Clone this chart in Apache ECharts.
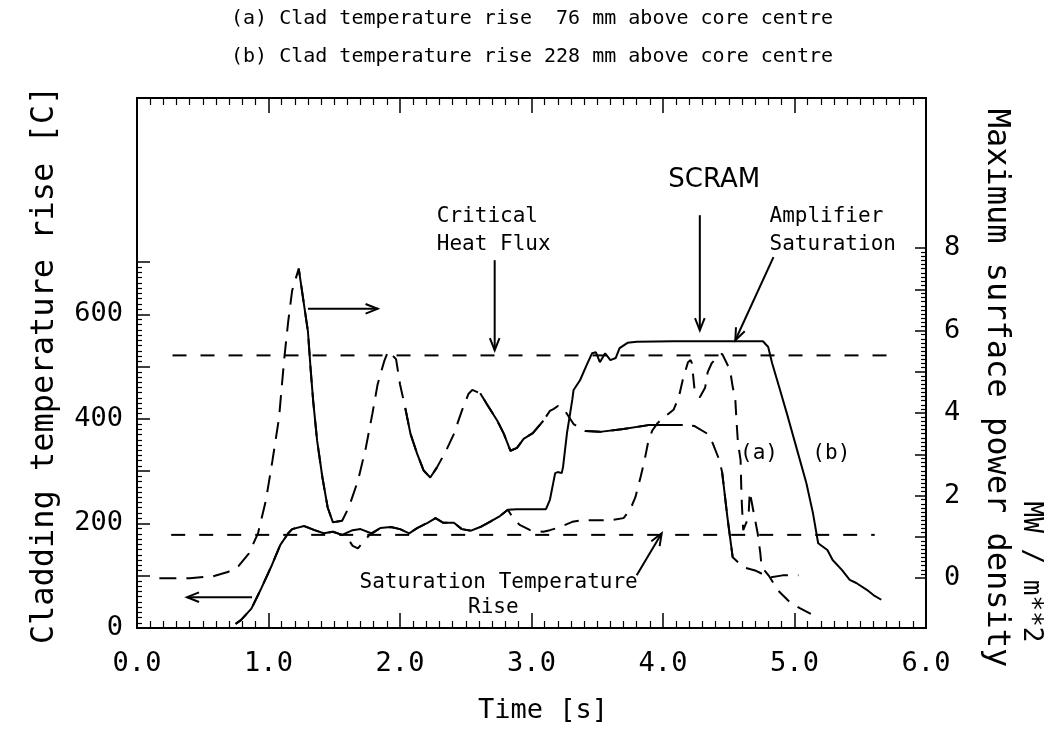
<!DOCTYPE html>
<html><head><meta charset="utf-8">
<script src="https://cdn.jsdelivr.net/npm/echarts@6/dist/echarts.min.js"></script>
<style>html,body{margin:0;padding:0;background:#fff}#c{width:1060px;height:730px}</style>
</head><body><div id="c"></div>
<script>
// ---- data (time [s], value) ----
const xTickValues = [0, 1, 2, 3, 4, 5, 6];
const tempTickLabels = [0, 200, 400, 600];
const powerTickLabels = [0, 2, 4, 6, 8];

// Maximum surface power density [MW/m**2] (right axis)
const powerDensity = [
  [0.17,0.0],[0.40,0.0],[0.58,0.05],[0.69,0.15],[0.77,0.29],[0.85,0.6],[0.92,1.09],[0.98,1.89],
  [1.03,2.86],[1.08,3.9],[1.12,5.35],[1.15,6.25],[1.18,7.0],[1.23,7.53],[1.30,6.0],[1.32,5.1],
  [1.34,4.3],[1.37,3.34],[1.41,2.45],[1.45,1.72],[1.49,1.36],[1.56,1.40],[1.61,1.72],[1.68,2.37],
  [1.74,3.17],[1.79,4.0],[1.83,4.72],[1.88,5.28],[1.91,5.52],[1.97,5.33],[2.00,4.72],[2.04,4.14],
  [2.08,3.51],[2.13,3.03],[2.18,2.62],[2.23,2.45],[2.28,2.69],[2.35,3.10],[2.41,3.51],[2.47,4.07],
  [2.52,4.48],[2.55,4.58],[2.61,4.5],[2.66,4.24],[2.74,3.83],[2.79,3.51],[2.84,3.10],[2.89,3.17],
  [2.94,3.39],[3.01,3.53],[3.09,3.83],[3.14,4.07],[3.17,4.12],[3.20,4.19],[3.24,4.14],[3.32,3.75],
  [3.41,3.58],[3.52,3.56],[3.70,3.63],[3.90,3.73],[4.15,3.73],[4.24,3.70],[4.34,3.51],[4.38,3.27],
  [4.43,2.86],[4.45,2.57],[4.49,1.48],[4.53,0.51],[4.61,0.27],[4.70,0.19],[4.81,0.02],[4.91,0.07],[5.03,0.07]
];
const powerSolidRanges = [[1.23,1.57],[2.04,2.30],[2.58,3.10],[3.40,4.16],[4.45,4.55]];

// (a) clad temperature rise 76 mm above core centre [C] (left axis)
const cladTempA = [
  [0.75,8],[0.79,15],[0.87,37],[0.94,73],[1.02,117],[1.09,159],[1.15,181],[1.18,189],[1.27,195],
  [1.35,187],[1.42,181],[1.49,184],[1.56,178],[1.60,172],[1.64,157],[1.68,152],[1.73,168],[1.77,178],
  [1.79,181],[1.85,191],[1.93,193],[2.00,189],[2.07,181],[2.13,191],[2.21,201],[2.27,210],[2.33,201],
  [2.41,201],[2.47,189],[2.54,186],[2.61,193],[2.69,204],[2.76,214],[2.82,226],[2.83,229],[2.86,210],
  [2.91,197],[2.99,187],[3.09,184],[3.14,187],[3.22,193],[3.31,203],[3.39,206],[3.49,206],[3.60,206],
  [3.70,210],[3.75,226],[3.79,250],[3.83,289],[3.86,321],[3.89,359],[3.92,378],[3.96,392],[4.02,405],
  [4.08,417],[4.12,441],[4.15,474],[4.19,508],[4.21,512],[4.22,506],[4.24,455],[4.26,445],[4.28,441],
  [4.32,459],[4.34,489],[4.37,506],[4.43,522],[4.45,524],[4.51,493],[4.53,461],[4.55,436],[4.56,392],
  [4.57,354],[4.59,321],[4.595,270],[4.60,235],[4.61,187],[4.65,212],[4.66,260],[4.69,220],[4.72,181],
  [4.74,143],[4.75,117],[4.81,98],[4.87,73],[4.97,48],[5.04,38],[5.14,25]
];

// (b) clad temperature rise 228 mm above core centre [C] (left axis)
const cladTempB = [
  [0.75,8],[0.79,15],[0.87,37],[0.94,73],[1.02,117],[1.09,159],[1.15,181],[1.18,189],[1.27,195],
  [1.35,187],[1.42,181],[1.49,184],[1.56,178],[1.64,187],[1.70,189],[1.78,181],[1.85,191],[1.93,193],
  [2.00,189],[2.07,181],[2.13,191],[2.21,201],[2.27,210],[2.33,201],[2.41,201],[2.47,189],[2.54,186],
  [2.61,193],[2.69,204],[2.76,214],[2.82,226],[2.89,227],[3.07,227],[3.11,227],[3.14,245],[3.18,296],
  [3.20,298],[3.23,296],[3.24,308],[3.27,373],[3.31,436],[3.32,455],[3.37,474],[3.42,503],[3.46,525],
  [3.49,527],[3.52,508],[3.56,525],[3.60,512],[3.64,516],[3.67,535],[3.73,545],[3.80,547],[4.08,548],
  [4.53,548],[4.76,548],[4.80,537],[4.83,506],[4.89,455],[4.95,403],[5.02,340],[5.09,277],[5.14,220],
  [5.18,162],[5.25,149],[5.29,130],[5.36,111],[5.42,92],[5.47,86],[5.55,73],[5.60,63],[5.66,54]
];

const chfLevel = 5.42;          // critical heat flux, MW/m**2
const chfSpan = [0.27, 5.70];
const satLevel = 178;           // saturation temperature rise, C
const satSpan = [0.26, 5.61];

const titles = ['(a) Clad temperature rise  76 mm above core centre',
                '(b) Clad temperature rise 228 mm above core centre'];

// annotations in (time, temperature) coordinates
const notes = [
  [2.28, 787, 'Critical', 'left', 21, 'mono'],
  [2.28, 732, 'Heat Flux', 'left', 21, 'mono'],
  [4.39, 856, 'SCRAM', 'center', 26, 'sans'],
  [4.81, 787, 'Amplifier', 'left', 21, 'mono'],
  [4.81, 732, 'Saturation', 'left', 21, 'mono'],
  [4.73, 334, '(a)', 'center', 21, 'mono'],
  [5.28, 334, '(b)', 'center', 21, 'mono'],
  [2.75, 86, 'Saturation Temperature', 'center', 21, 'mono'],
  [2.71, 40, 'Rise', 'center', 21, 'mono']
];
const arrows = [
  [2.72, 703, 2.72, 531],
  [4.28, 789, 4.28, 569],
  [4.84, 709, 4.55, 550],
  [3.80, 101, 3.99, 181],
  [1.30, 610, 1.83, 610],
  [0.875, 59, 0.38, 59]
];

// ---- chart ----
const MONO = '"DejaVu Sans Mono", "Liberation Mono", monospace';
const SANS = '"DejaVu Sans", "Liberation Sans", sans-serif';
const chart = echarts.init(document.getElementById('c'), null, {renderer: 'canvas'});

function inRanges(t) { return powerSolidRanges.some(r => t >= r[0] - 1e-9 && t <= r[1] + 1e-9); }
const powerSolid = powerDensity.map(p => inRanges(p[0]) ? p : [p[0], null]);

const G = {left: 137, right: 134, top: 98, bottom: 102};
const tickStyle = {color: '#000', width: 1.5};
const minorStyle = {color: '#000', width: 1.2};
const labelFont = {color: '#000', fontFamily: MONO, fontSize: 27};

const option = {
  animation: false,
  backgroundColor: '#fff',
  grid: [
    Object.assign({show: true, borderColor: '#000', borderWidth: 2, backgroundColor: 'transparent'}, G),
    {left: G.left, right: G.right, top: 262, bottom: G.bottom},
    {left: G.left, right: G.right, top: 248, bottom: 152}
  ],
  xAxis: [
    {gridIndex: 0, type: 'value', position: 'bottom', min: 0, max: 6, interval: 1,
     axisLine: {show: true, onZero: false, lineStyle: {color: '#000', width: 2}},
     axisTick: {show: true, inside: true, length: 15, lineStyle: tickStyle},
     minorTick: {show: true, splitNumber: 10, length: 7, lineStyle: minorStyle},
     splitLine: {show: false},
     axisLabel: Object.assign({margin: 22, formatter: v => xTickValues.includes(v) ? v.toFixed(1) : ''}, labelFont)},
    {gridIndex: 0, type: 'value', position: 'top', min: 0, max: 6, interval: 1,
     axisLine: {show: true, onZero: false, lineStyle: {color: '#000', width: 2}},
     axisTick: {show: true, inside: true, length: 15, lineStyle: tickStyle},
     minorTick: {show: true, splitNumber: 10, length: 7, lineStyle: minorStyle},
     splitLine: {show: false}, axisLabel: {show: false}},
    {gridIndex: 1, type: 'value', min: 0, max: 6, show: false, axisLine: {onZero: false}},
    {gridIndex: 2, type: 'value', min: 0, max: 6, show: false, axisLine: {onZero: false}}
  ],
  yAxis: [
    {gridIndex: 0, type: 'value', min: 0, max: 1013, show: false, axisLine: {onZero: false}},
    {gridIndex: 0, type: 'value', min: -1.21, max: 11.68, show: false, axisLine: {onZero: false}},
    {gridIndex: 1, type: 'value', position: 'left', min: 0, max: 700, interval: 100,
     axisLine: {show: false, onZero: false},
     axisTick: {show: true, inside: true, length: 13, lineStyle: tickStyle},
     minorTick: {show: true, splitNumber: 10, length: 5, lineStyle: minorStyle},
     splitLine: {show: false},
     axisLabel: Object.assign({margin: 14, formatter: v => tempTickLabels.includes(v) ? String(v) : ''}, labelFont)},
    {gridIndex: 2, type: 'value', position: 'right', min: 0, max: 8, interval: 1,
     axisLine: {show: false, onZero: false},
     axisTick: {show: true, inside: true, length: 11, lineStyle: tickStyle},
     minorTick: {show: true, splitNumber: 10, length: 5, lineStyle: minorStyle},
     splitLine: {show: false},
     axisLabel: Object.assign({margin: 18, formatter: v => powerTickLabels.includes(v) ? String(v) : ''}, labelFont)}
  ],
  series: [
    {name: 'Saturation temperature rise', type: 'line', xAxisIndex: 0, yAxisIndex: 0, symbol: 'none',
     data: [[satSpan[0], satLevel], [satSpan[1], satLevel]],
     lineStyle: {color: '#000', width: 2, type: [14, 14]}},
    {name: 'Critical heat flux', type: 'line', xAxisIndex: 0, yAxisIndex: 1, symbol: 'none',
     data: [[chfSpan[0], chfLevel], [chfSpan[1], chfLevel]],
     lineStyle: {color: '#000', width: 2, type: [14, 14]}},
    {name: 'Power density', type: 'line', xAxisIndex: 0, yAxisIndex: 1, symbol: 'none',
     data: powerDensity, lineStyle: {color: '#000', width: 2, type: [17, 10]}},
    {name: 'Power density (solid)', type: 'line', xAxisIndex: 0, yAxisIndex: 1, symbol: 'none',
     data: powerSolid, connectNulls: false, lineStyle: {color: '#000', width: 2}},
    {name: '(a)', type: 'line', xAxisIndex: 0, yAxisIndex: 0, symbol: 'none',
     data: cladTempA, lineStyle: {color: '#000', width: 2, type: [15, 10]}},
    {name: '(b)', type: 'line', xAxisIndex: 0, yAxisIndex: 0, symbol: 'none',
     data: cladTempB, lineStyle: {color: '#000', width: 2}},
    {name: 'arrows', type: 'custom', xAxisIndex: 0, yAxisIndex: 0, clip: false,
     data: arrows,
     renderItem: function (params, api) {
       const p1 = api.coord([api.value(0), api.value(1)]);
       const p2 = api.coord([api.value(2), api.value(3)]);
       const ang = Math.atan2(p2[1] - p1[1], p2[0] - p1[0]);
       const L = 13, a = 0.38;
       const h1 = [p2[0] - L * Math.cos(ang - a), p2[1] - L * Math.sin(ang - a)];
       const h2 = [p2[0] - L * Math.cos(ang + a), p2[1] - L * Math.sin(ang + a)];
       return {type: 'group', children: [
         {type: 'line', shape: {x1: p1[0], y1: p1[1], x2: p2[0], y2: p2[1]}, style: {stroke: '#000', lineWidth: 2}},
         {type: 'polyline', shape: {points: [h1, p2, h2]}, style: {stroke: '#000', lineWidth: 2, fill: null}}
       ]};
     }},
    {name: 'notes', type: 'custom', xAxisIndex: 0, yAxisIndex: 0, clip: false,
     data: notes.map(n => [n[0], n[1]]),
     renderItem: function (params, api) {
       const n = notes[params.dataIndex];
       const p = api.coord([api.value(0), api.value(1)]);
       return {type: 'text', x: p[0], y: p[1], style: {
         text: n[2], fill: '#000', textAlign: n[3], textVerticalAlign: 'middle',
         font: n[4] + 'px ' + (n[5] === 'sans' ? SANS : MONO)}};
     }}
  ],
  graphic: [
    {type: 'text', x: 532, y: 19, style: {text: titles[0], fill: '#000', font: '20px ' + MONO, textAlign: 'center', textVerticalAlign: 'middle'}},
    {type: 'text', x: 532, y: 57, style: {text: titles[1], fill: '#000', font: '20px ' + MONO, textAlign: 'center', textVerticalAlign: 'middle'}},
    {type: 'text', x: 543, y: 711, style: {text: 'Time [s]', fill: '#000', font: '27px ' + MONO, textAlign: 'center', textVerticalAlign: 'middle'}},
    {type: 'text', x: 45, y: 365, rotation: Math.PI / 2, style: {text: 'Cladding temperature rise [C]', fill: '#000', font: '32px ' + MONO, textAlign: 'center', textVerticalAlign: 'middle'}},
    {type: 'text', x: 996, y: 388, rotation: -Math.PI / 2, style: {text: 'Maximum surface power density', fill: '#000', font: '32px ' + MONO, textAlign: 'center', textVerticalAlign: 'middle'}},
    {type: 'text', x: 1031, y: 572, rotation: -Math.PI / 2, style: {text: 'MW / m**2', fill: '#000', font: '26px ' + MONO, textAlign: 'center', textVerticalAlign: 'middle'}}
  ]
};
chart.setOption(option);
</script>
</body></html>
